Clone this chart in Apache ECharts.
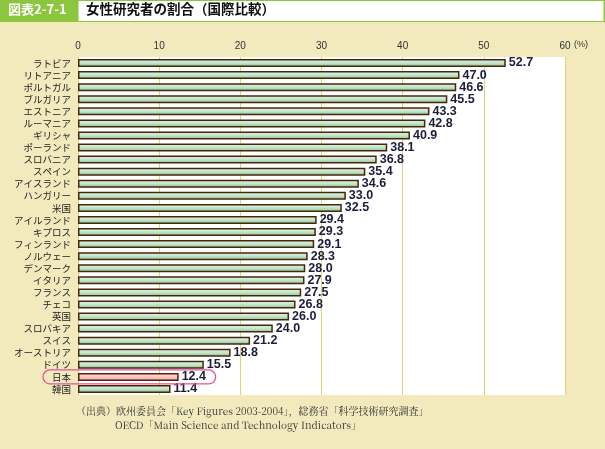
<!DOCTYPE html>
<html><head><meta charset="utf-8">
<script src="https://cdn.jsdelivr.net/npm/echarts@6/dist/echarts.min.js"></script>
<style>html,body{margin:0;padding:0;background:#f2e9bd}#c{width:605px;height:449px}</style>
</head><body><div id="c"></div>
<script>
const categories = ['ラトビア','リトアニア','ポルトガル','ブルガリア','エストニア','ルーマニア','ギリシャ','ポーランド','スロバニア','スペイン','アイスランド','ハンガリー','米国','アイルランド','キプロス','フィンランド','ノルウェー','デンマーク','イタリア','フランス','チェコ','英国','スロバキア','スイス','オーストリア','ドイツ','日本','韓国'];
const values = [52.7,47.0,46.6,45.5,43.3,42.8,40.9,38.1,36.8,35.4,34.6,33.0,32.5,29.4,29.3,29.1,28.3,28.0,27.9,27.5,26.8,26.0,24.0,21.2,18.8,15.5,12.4,11.4];
const highlight = '日本';
const xTicks = [0,10,20,30,40,50,60];

const green = {type:'linear',x:0,y:0,x2:0,y2:1,colorStops:[{offset:0,color:'#e6f4e8'},{offset:0.5,color:'#c4e5cb'},{offset:1,color:'#7fc28f'}]};
const pink = {type:'linear',x:0,y:0,x2:0,y2:1,colorStops:[{offset:0,color:'#ffe0e0'},{offset:0.5,color:'#ffc6c6'},{offset:1,color:'#f5a0a0'}]};

const chart = echarts.init(document.getElementById('c'));
const font = '"Noto Sans CJK JP", "Noto Sans", sans-serif';
chart.setOption({
  animation:false,
  backgroundColor:'#f2e9bd',
  grid:{left:78,right:40,top:57,bottom:54,show:true,backgroundColor:'#ffffff',borderWidth:0},
  xAxis:{type:'value',position:'top',min:0,max:60,interval:10,
    axisLine:{show:false},axisTick:{show:false},
    splitLine:{lineStyle:{color:'#e2d27a',width:1}},
    axisLabel:{color:'#333',fontSize:10,fontFamily:'Arial, Liberation Sans, sans-serif',margin:6,
      formatter:v=>xTicks.includes(v)?String(v):''}},
  yAxis:{type:'category',inverse:true,data:categories,
    axisLine:{show:false},axisTick:{show:false},
    axisLabel:{interval:0,color:'#222',fontSize:9.5,fontFamily:font,margin:7}},
  series:[{type:'bar',barWidth:8,
    data:values.map((v,i)=>({value:v,itemStyle:{color:categories[i]===highlight?pink:green}})),
    itemStyle:{borderColor:'#4a2608',borderWidth:1.5},
    label:{show:true,position:'right',distance:3,color:'#1c1c3c',fontWeight:'bold',fontSize:12.5,
      fontFamily:'Arial, Liberation Sans, sans-serif',formatter:p=>p.value.toFixed(1)}}]
});

const jIdx = categories.indexOf(highlight);
const jy = chart.convertToPixel({yAxisIndex:0},categories[jIdx]);
const jx = chart.convertToPixel({xAxisIndex:0},values[jIdx]);
chart.setOption({graphic:[
  {type:'rect',shape:{x:0,y:0,width:605,height:22},style:{fill:'#8cc63f'},silent:true},
  {type:'rect',shape:{x:78,y:0.5,width:526,height:21},style:{fill:'#fff',stroke:'#8cc63f',lineWidth:1}},
  {type:'text',left:8,top:3,style:{text:'図表2-7-1',fill:'#fff',font:'bold 13px "Noto Sans CJK JP", sans-serif'}},
  {type:'text',left:86,top:2,style:{text:'女性研究者の割合（国際比較）',fill:'#111',font:'bold 13.5px "Noto Sans CJK JP", sans-serif'}},
  {type:'text',left:574,top:40,style:{text:'(%)',fill:'#333',font:'9px Arial, sans-serif'}},
  {type:'rect',shape:{x:43,y:jy-7,width:jx+37-43,height:14,r:7},style:{fill:'none',stroke:'#e8509a',lineWidth:1.3},z:10},
  {type:'text',left:76,top:406,style:{text:'（出典）欧州委員会「Key Figures 2003-2004」，総務省「科学技術研究調査」',fill:'#333',font:'10px "Noto Serif CJK JP", "DejaVu Serif", "Liberation Serif", serif'}},
  {type:'text',left:115,top:420,style:{text:'OECD「Main Science and Technology Indicators」',fill:'#333',font:'10px "Noto Serif CJK JP", "DejaVu Serif", "Liberation Serif", serif'}}
]});
</script></body></html>
